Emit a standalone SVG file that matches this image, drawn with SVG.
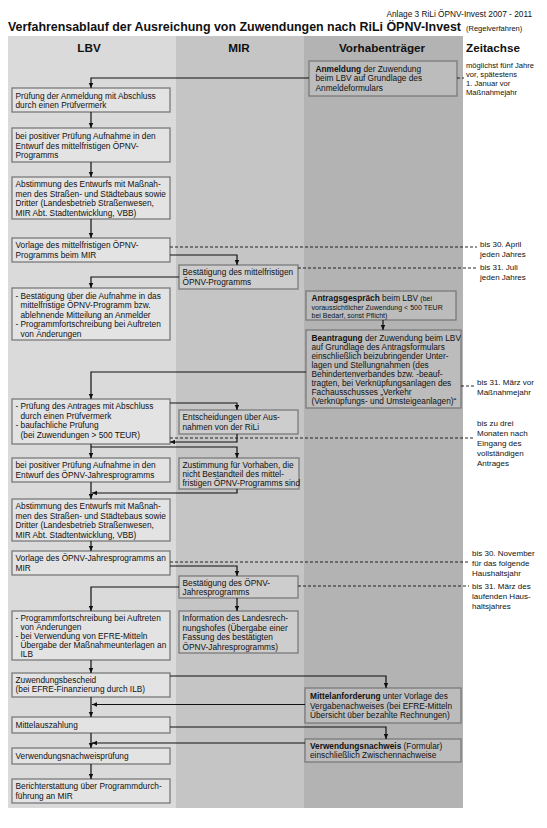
<svg xmlns="http://www.w3.org/2000/svg" width="547" height="828" viewBox="0 0 547 828">
<defs>
<marker id="ah" markerWidth="5" markerHeight="5" refX="5" refY="2.25" orient="auto" markerUnits="userSpaceOnUse"><path d="M0,0 L5,2.25 L0,4.5 z" fill="#111"/></marker>
</defs>
<style>
text{font-family:"Liberation Sans",Arial,sans-serif;fill:#111}
.t{font-size:8.3px}
.z{font-size:8px}
.zt{font-size:7.6px}
.s{font-size:7px}
.b{font-weight:bold}
.h{font-size:11.7px;font-weight:bold}
.bl{fill:#e3e3e3;stroke:#7a7a7a;stroke-width:1.3}
.bm{fill:#cdcdcd;stroke:#7a7a7a;stroke-width:1.3}
.bv{fill:#bcbcbc;stroke:#7a7a7a;stroke-width:1.3}
.c{fill:none;stroke:#111;stroke-width:1.2;marker-end:url(#ah)}
.d{fill:none;stroke:#111;stroke-width:0.9;stroke-dasharray:3 2}
</style>
<rect x="0" y="0" width="547" height="828" fill="#fff"/>
<g id="header">
<text class="t" x="532" y="17" text-anchor="end">Anlage 3 RiLi ÖPNV-Invest 2007 - 2011</text>
<text x="8" y="31" class="b" font-size="12.5" textLength="453" lengthAdjust="spacingAndGlyphs">Verfahrensablauf der Ausreichung von Zuwendungen nach RiLi ÖPNV-Invest</text>
<text x="466" y="31" font-size="7.5">(Regelverfahren)</text>
</g>
<g id="lanes">
<rect x="8" y="36" width="168" height="772" fill="#dadada"/>
<rect x="176" y="36" width="128" height="772" fill="#c5c5c5"/>
<rect x="304" y="36" width="159" height="772" fill="#b3b3b3"/>
<text class="h" x="89" y="51.5" text-anchor="middle">LBV</text>
<text class="h" x="239" y="51.5" text-anchor="middle">MIR</text>
<text class="h" x="382" y="51.5" text-anchor="middle">Vorhabenträger</text>
<text class="h" x="466" y="51.5">Zeitachse</text>
</g>
<g id="zeitachse">
<text class="zt" x="466" y="67.5">möglichst fünf Jahre</text>
<text class="zt" x="466" y="76.5">vor, spätestens</text>
<text class="zt" x="466" y="85.5">1. Januar vor</text>
<text class="zt" x="466" y="94.5">Maßnahmejahr</text>
<text class="z" x="480" y="246.5">bis 30. April</text>
<text class="z" x="480" y="256.5">jeden Jahres</text>
<text class="z" x="480" y="269.5">bis 31. Juli</text>
<text class="z" x="480" y="279.5">jeden Jahres</text>
<text class="z" x="477" y="384.5">bis 31. März vor</text>
<text class="z" x="477" y="394.5">Maßnahmejahr</text>
<text class="z" x="477" y="425.5">bis zu drei</text>
<text class="z" x="477" y="435.5">Monaten nach</text>
<text class="z" x="477" y="445.5">Eingang des</text>
<text class="z" x="477" y="455.5">vollständigen</text>
<text class="z" x="477" y="465.5">Antrages</text>
<text class="z" x="472" y="555.5">bis 30. November</text>
<text class="z" x="472" y="565.5">für das folgende</text>
<text class="z" x="472" y="575.5">Haushaltsjahr</text>
<text class="z" x="472" y="588.5">bis 31. März des</text>
<text class="z" x="472" y="598.5">laufenden Haus-</text>
<text class="z" x="472" y="608.5">haltsjahres</text>
</g>
<g id="V1"><rect class="bv" x="309" y="61" width="148" height="35"/>
<text class="t" x="315.5" y="71.5"><tspan class="b">Anmeldung</tspan> der Zuwendung</text>
<text class="t" x="315.5" y="81">beim LBV auf Grundlage des</text>
<text class="t" x="315.5" y="90.5">Anmeldeformulars</text></g>
<g id="L1"><rect class="bl" x="12" y="88" width="158" height="24"/>
<text class="t" x="15.5" y="98.5">Prüfung der Anmeldung mit Abschluss</text>
<text class="t" x="15.5" y="108">durch einen Prüfvermerk</text></g>
<g id="L2"><rect class="bl" x="12" y="128" width="158" height="34"/>
<text class="t" x="15.5" y="139">bei positiver Prüfung Aufnahme in den</text>
<text class="t" x="15.5" y="148.5">Entwurf des mittelfristigen ÖPNV-</text>
<text class="t" x="15.5" y="158">Programms</text></g>
<g id="L3"><rect class="bl" x="12" y="177" width="158" height="42"/>
<text class="t" x="15.5" y="187">Abstimmung des Entwurfs mit Maßnah-</text>
<text class="t" x="15.5" y="196.5">men des Straßen- und Städtebaus sowie</text>
<text class="t" x="15.5" y="206">Dritter (Landesbetrieb Straßenwesen,</text>
<text class="t" x="15.5" y="215.5">MIR Abt. Stadtentwicklung, VBB)</text></g>
<g id="L4"><rect class="bl" x="12" y="238" width="158" height="24"/>
<text class="t" x="15.5" y="248">Vorlage des mittelfristigen ÖPNV-</text>
<text class="t" x="15.5" y="257.5">Programms beim MIR</text></g>
<g id="M1"><rect class="bm" x="179" y="265" width="119" height="24"/>
<text class="t" x="182.5" y="275">Bestätigung des mittelfristigen</text>
<text class="t" x="182.5" y="284.5">ÖPNV-Programms</text></g>
<g id="L5"><rect class="bl" x="12" y="288" width="158" height="52"/>
<text class="t" x="15.5" y="298.5">- Bestätigung über die Aufnahme in das</text>
<text class="t" x="20.5" y="308">mittelfristige ÖPNV-Programm bzw.</text>
<text class="t" x="20.5" y="317.5">ablehnende Mitteilung an Anmelder</text>
<text class="t" x="15.5" y="327">- Programmfortschreibung bei Auftreten</text>
<text class="t" x="20.5" y="336.5">von Änderungen</text></g>
<g id="V2"><rect class="bv" x="306" y="291" width="150" height="29"/>
<text class="t" x="311.5" y="301"><tspan class="b">Antragsgespräch</tspan> beim LBV <tspan class="s">(bei</tspan></text>
<text class="s" x="311.5" y="309.5">voraussichtlicher Zuwendung &lt; 500 TEUR</text>
<text class="s" x="311.5" y="317.5">bei Bedarf, sonst Pflicht)</text></g>
<g id="V3"><rect class="bv" x="306" y="330" width="155" height="78"/>
<text class="t" x="311.5" y="340.5"><tspan class="b">Beantragung</tspan> der Zuwendung beim LBV</text>
<text class="t" x="311.5" y="349.6">auf Grundlage des Antragsformulars</text>
<text class="t" x="311.5" y="358.7">einschließlich beizubringender Unter-</text>
<text class="t" x="311.5" y="367.8">lagen und Stellungnahmen (des</text>
<text class="t" x="311.5" y="376.9">Behindertenverbandes bzw. -beauf-</text>
<text class="t" x="311.5" y="386">tragten, bei Verknüpfungsanlagen des</text>
<text class="t" x="311.5" y="395.1">Fachausschusses „Verkehr</text>
<text class="t" x="311.5" y="404.2">(Verknüpfungs- und Umsteigeanlagen)“</text></g>
<g id="L6"><rect class="bl" x="12" y="399" width="158" height="45"/>
<text class="t" x="15.5" y="409">- Prüfung des Antrages mit Abschluss</text>
<text class="t" x="20.5" y="418.5">durch einen Prüfvermerk</text>
<text class="t" x="15.5" y="428">- baufachliche Prüfung</text>
<text class="t" x="20.5" y="437.5">(bei Zuwendungen &gt; 500 TEUR)</text></g>
<g id="M2"><rect class="bm" x="179" y="410" width="119" height="24"/>
<text class="t" x="182.5" y="420">Entscheidungen über Aus-</text>
<text class="t" x="182.5" y="429.5">nahmen von der RiLi</text></g>
<g id="L7"><rect class="bl" x="12" y="458" width="158" height="24"/>
<text class="t" x="15.5" y="468">bei positiver Prüfung Aufnahme in den</text>
<text class="t" x="15.5" y="477.5">Entwurf des ÖPNV-Jahresprogramms</text></g>
<g id="M3"><rect class="bm" x="179" y="458" width="120" height="31"/>
<text class="t" x="182.5" y="468">Zustimmung für Vorhaben, die</text>
<text class="t" x="182.5" y="477">nicht Bestandteil des mittel-</text>
<text class="t" x="182.5" y="486">fristigen ÖPNV-Programms sind</text></g>
<g id="L8"><rect class="bl" x="12" y="499" width="158" height="42"/>
<text class="t" x="15.5" y="509">Abstimmung des Entwurfs mit Maßnah-</text>
<text class="t" x="15.5" y="518.5">men des Straßen- und Städtebaus sowie</text>
<text class="t" x="15.5" y="528">Dritter (Landesbetrieb Straßenwesen,</text>
<text class="t" x="15.5" y="537.5">MIR Abt. Stadtentwicklung, VBB)</text></g>
<g id="L9"><rect class="bl" x="12" y="551" width="158" height="24"/>
<text class="t" x="15.5" y="561">Vorlage des ÖPNV-Jahresprogramms an</text>
<text class="t" x="15.5" y="570.5">MIR</text></g>
<g id="M4"><rect class="bm" x="179" y="576" width="119" height="22"/>
<text class="t" x="182.5" y="585.5">Bestätigung des ÖPNV-</text>
<text class="t" x="182.5" y="595">Jahresprogramms</text></g>
<g id="M5"><rect class="bm" x="179" y="611" width="119" height="42"/>
<text class="t" x="182.5" y="621">Information des Landesrech-</text>
<text class="t" x="182.5" y="630.5">nungshofes (Übergabe einer</text>
<text class="t" x="182.5" y="640">Fassung des bestätigten</text>
<text class="t" x="182.5" y="649.5">ÖPNV-Jahresprogramms)</text></g>
<g id="L10"><rect class="bl" x="12" y="611" width="158" height="49"/>
<text class="t" x="15.5" y="620.5">- Programmfortschreibung bei Auftreten</text>
<text class="t" x="20.5" y="629.5">von Änderungen</text>
<text class="t" x="15.5" y="638.5">- bei Verwendung von EFRE-Mitteln</text>
<text class="t" x="20.5" y="647.5">Übergabe der Maßnahmeunterlagen an</text>
<text class="t" x="20.5" y="656.5">ILB</text></g>
<g id="L11"><rect class="bl" x="12" y="673" width="158" height="24"/>
<text class="t" x="15.5" y="682.5">Zuwendungsbescheid</text>
<text class="t" x="15.5" y="692">(bei EFRE-Finanzierung durch ILB)</text></g>
<g id="V4"><rect class="bv" x="305" y="688" width="156" height="35"/>
<text class="t" x="310" y="699"><tspan class="b">Mittelanforderung</tspan> unter Vorlage des</text>
<text class="t" x="310" y="708.5">Vergabenachweises (bei EFRE-Mitteln</text>
<text class="t" x="310" y="718">Übersicht über bezahlte Rechnungen)</text></g>
<g id="L12"><rect class="bl" x="12" y="717" width="158" height="16"/>
<text class="t" x="15.5" y="728">Mittelauszahlung</text></g>
<g id="V5"><rect class="bv" x="305" y="739" width="156" height="23"/>
<text class="t" x="310" y="748.5"><tspan class="b">Verwendungsnachweis</tspan> (Formular)</text>
<text class="t" x="310" y="758">einschließlich Zwischennachweise</text></g>
<g id="L13"><rect class="bl" x="12" y="748" width="158" height="16"/>
<text class="t" x="15.5" y="759">Verwendungsnachweisprüfung</text></g>
<g id="L14"><rect class="bl" x="12" y="779" width="158" height="24"/>
<text class="t" x="15.5" y="789">Berichterstattung über Programmdurch-</text>
<text class="t" x="15.5" y="798.5">führung an MIR</text></g>
<g id="connectors">
<path class="c" d="M309,78 H91 V88"/>
<path class="c" d="M91,112 V128"/>
<path class="c" d="M91,162 V177"/>
<path class="c" d="M91,219 V238"/>
<path class="c" d="M170,255 H237 V265"/>
<path class="c" d="M179,277 H91 V288"/>
<path class="c" d="M383,320 V330"/>
<path class="c" d="M306,372 H91 V399"/>
<path class="c" d="M170,403 H237 V410"/>
<path class="c" d="M237,434 V442 H170"/>
<path class="c" d="M91,444 V458"/>
<path class="c" d="M91,447 H237 V458"/>
<path class="c" d="M237,489 V493 H92"/>
<path class="c" d="M91,482 V499"/>
<path class="c" d="M91,541 V551"/>
<path class="c" d="M170,566 H237 V576"/>
<path class="c" d="M179,587 H91 V611"/>
<path class="c" d="M237,598 V611"/>
<path class="c" d="M91,660 V673"/>
<path class="c" d="M170,676 H386 V688"/>
<path class="c" d="M305,704.5 H92"/>
<path class="c" d="M91,697 V717"/>
<path class="c" d="M170,727 H386 V739"/>
<path class="c" d="M305,743 H92"/>
<path class="c" d="M91,733 V748"/>
<path class="c" d="M91,764 V779"/>
<path class="d" d="M457,78 H464"/>
<path class="d" d="M170,247 H477"/>
<path class="d" d="M298,268 H477"/>
<path class="d" d="M461,386 H474"/>
<path class="d" d="M170,438 H475"/>
<path class="d" d="M170,562 H469"/>
<path class="d" d="M298,586 H469"/>
</g>
</svg>
